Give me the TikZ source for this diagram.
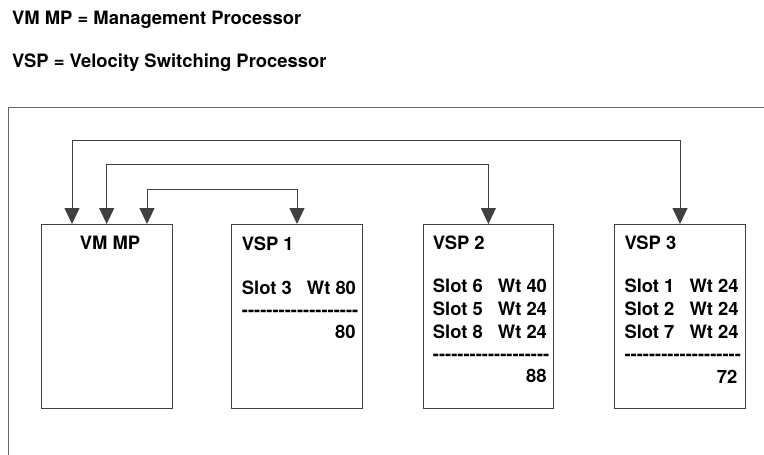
\documentclass[tikz,border=0pt]{standalone}
\usepackage{fontspec}
\setmainfont{TeX Gyre Heros}[Ligatures=TeXOff]
\usetikzlibrary{arrows.meta}
\begin{document}
\begin{tikzpicture}[x=1pt,y=-1pt,
  box/.style={draw=black!75, line width=0.9pt, minimum width=130.5pt, minimum height=184pt, inner sep=0pt, anchor=north west},
  txt/.style={font=\bfseries\fontsize{18.4}{22}\selectfont, inner sep=0pt, text=black},
  frame/.style={draw=black!60, line width=0.9pt},
  conn/.style={draw=black!75, line width=0.9pt, {Triangle[width=15pt,length=16pt]}-{Triangle[width=15pt,length=16pt]}}]
\useasboundingbox (0,0) rectangle (764,455);
% legend
\node[txt, anchor=base west] (l1) at (12,24) {VM MP = Management Processor};
\node[txt, anchor=base west] (l2) at (12,67.5) {VSP = Velocity Switching Processor};
% frame
\coordinate (fr) at (764,107);
\coordinate (fc) at (8,107);
\coordinate (fb) at (8,455);
\draw[frame] (fr) -- (fc) -- (fb);
% boxes
\node[box] (vm) at (41,224) {};
\node[box] (v1) at (231.3,224) {};
\node[box] (v2) at (422.7,224) {};
\node[box] (v3) at (614.3,224) {};
% texts
\node[txt, anchor=base] (vmt) at (110,249.5) {VM MP};
\node[txt, anchor=base west] (v1t) at (241.7,250) {VSP 1};
\node[txt, anchor=base west] (v1s) at (241.7,294) {Slot 3};
\node[txt, anchor=base west] (v1w) at (306.7,294) {Wt 80};
\node[txt, anchor=base west] (v1d) at (241.7,316) {-------------------};
\node[txt, anchor=base east] (v1n) at (355.7,338) {80};

\node[txt, anchor=base west] (v2t) at (432.7,249) {VSP 2};
\node[txt, anchor=base west] (v2s1) at (432.7,292.5) {Slot 6};
\node[txt, anchor=base west] (v2w1) at (497.7,292.5) {Wt 40};
\node[txt, anchor=base west] (v2s2) at (432.7,315.3) {Slot 5};
\node[txt, anchor=base west] (v2w2) at (497.7,315.3) {Wt 24};
\node[txt, anchor=base west] (v2s3) at (432.7,338) {Slot 8};
\node[txt, anchor=base west] (v2w3) at (497.7,338) {Wt 24};
\node[txt, anchor=base west] (v2d) at (432.7,360.5) {-------------------};
\node[txt, anchor=base east] (v2n) at (546.7,382.5) {88};

\node[txt, anchor=base west] (v3t) at (624.3,249) {VSP 3};
\node[txt, anchor=base west] (v3s1) at (624.3,292.5) {Slot 1};
\node[txt, anchor=base west] (v3w1) at (689.3,292.5) {Wt 24};
\node[txt, anchor=base west] (v3s2) at (624.3,315.3) {Slot 2};
\node[txt, anchor=base west] (v3w2) at (689.3,315.3) {Wt 24};
\node[txt, anchor=base west] (v3s3) at (624.3,338) {Slot 7};
\node[txt, anchor=base west] (v3w3) at (689.3,338) {Wt 24};
\node[txt, anchor=base west] (v3d) at (624.3,360.5) {-------------------};
\node[txt, anchor=base east] (v3n) at (737.5,383) {72};
% connectors
\coordinate (c1) at (72,140.7);
\coordinate (c2) at (vm.north |- 0,164.3);
\coordinate (c3) at (147,189);
\draw[conn] (vm.north -| c1) -- (c1) -| (v3.north);
\draw[conn] (vm.north) -- (c2) -| (v2.north);
\draw[conn] (vm.north -| c3) -- (c3) -| (v1.north);
\end{tikzpicture}
\end{document}
